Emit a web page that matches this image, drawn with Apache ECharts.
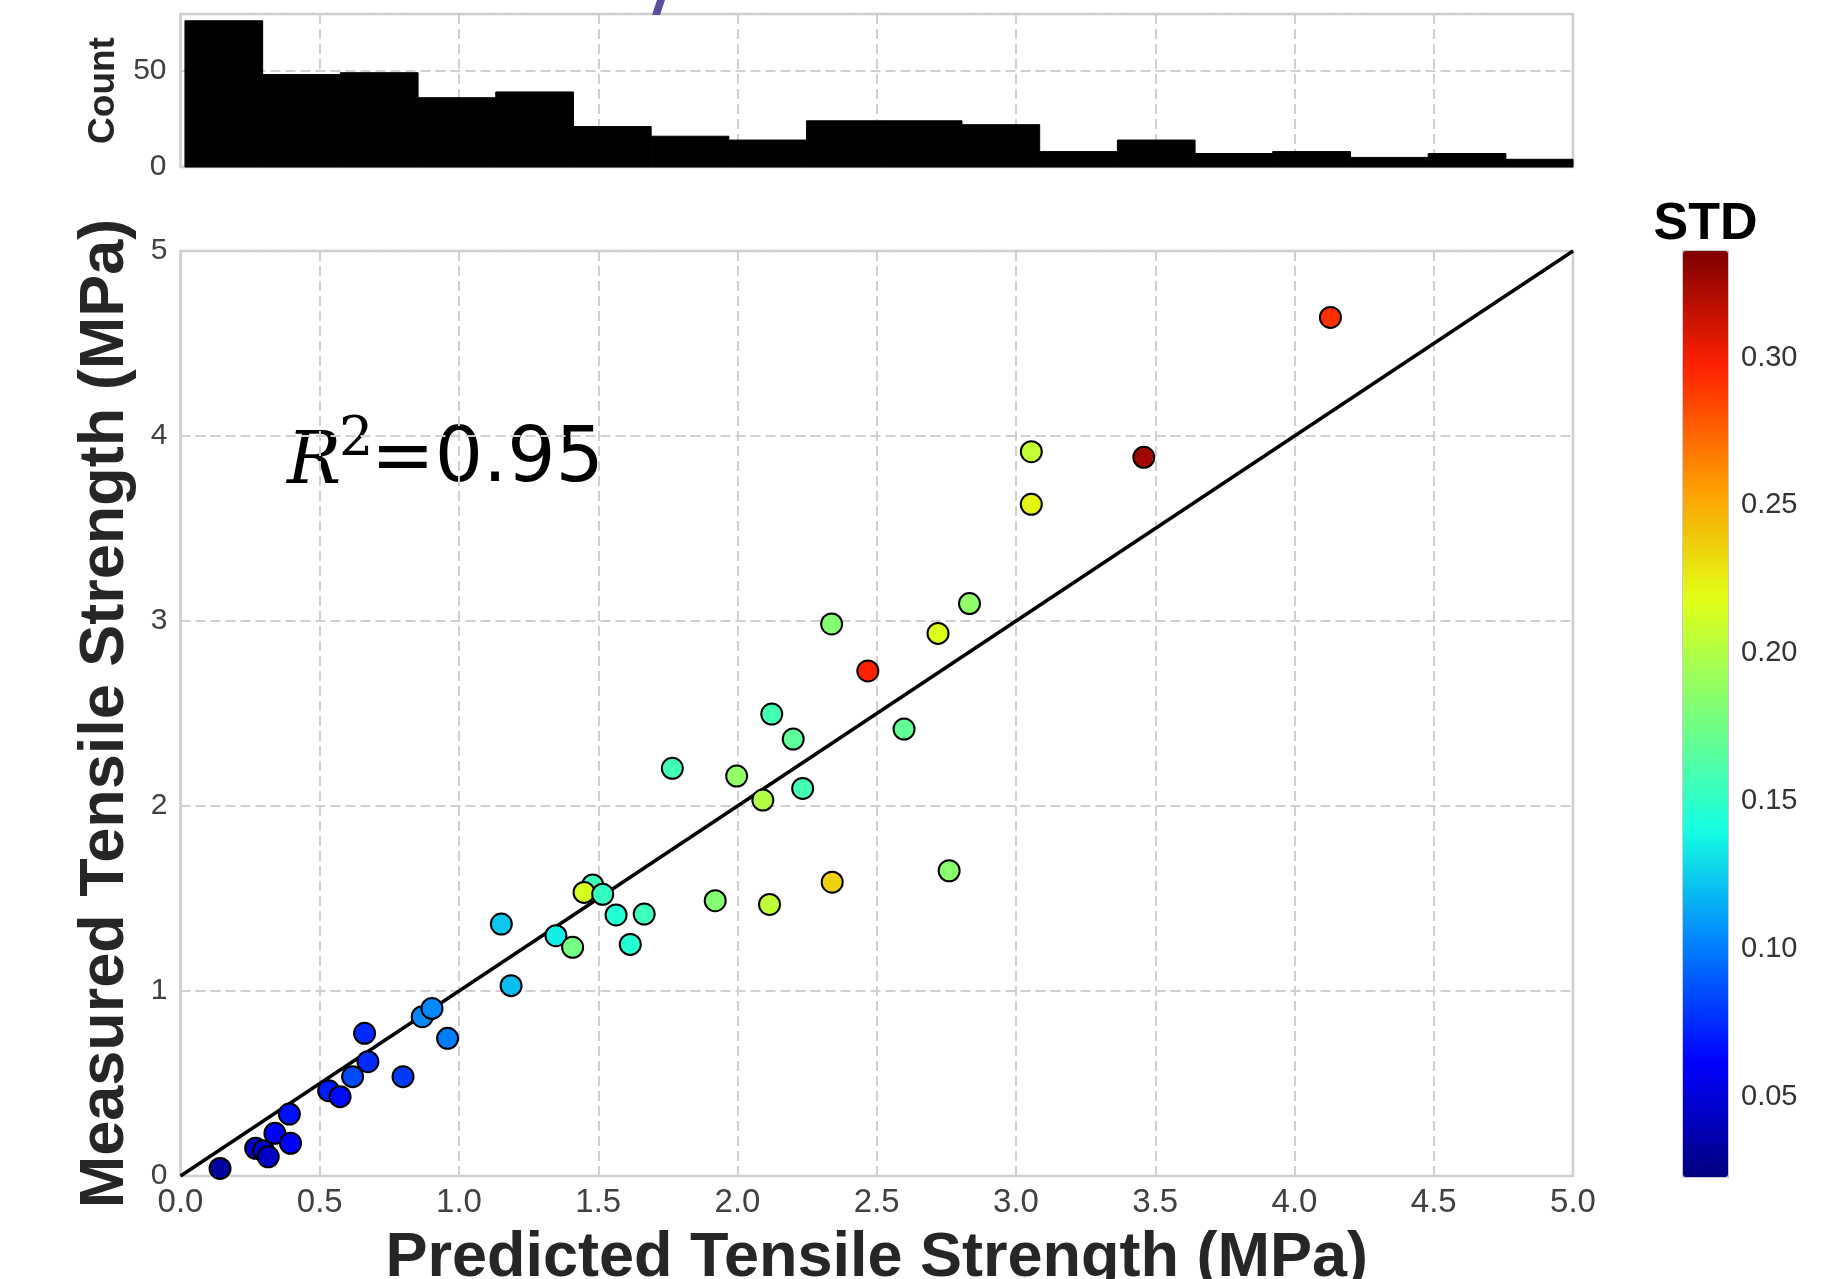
<!DOCTYPE html>
<html>
<head>
<meta charset="utf-8">
<title>Predicted vs Measured Tensile Strength</title>
<script src="https://cdn.jsdelivr.net/npm/echarts@6/dist/echarts.min.js"></script>
<style>
    html, body { margin: 0; padding: 0; background: #fff; }
    #chart { width: 1845px; height: 1279px; }
</style>
</head>
<body>
<div id="chart"></div>
<script>
// histogram of predictions (top panel)
const histCounts = [76, 48, 49, 36, 39, 21, 16, 14, 24, 24, 22, 8, 14, 7, 8, 5, 7, 4];
const histStart = 0.016;
const histBinWidth = 0.279;

// test points: predicted vs measured, coloured by std of the prediction
const predicted = [
    0.142, 0.270, 0.298, 0.315, 0.339, 0.391, 0.395, 0.532, 0.573, 0.618,
    0.661, 0.673, 0.799, 0.868, 0.903, 0.959, 1.152, 1.187, 1.348, 1.408,
    1.480, 1.449, 1.516, 1.564, 1.615, 1.665, 1.766, 1.920, 1.997, 2.091,
    2.115, 2.123, 2.200, 2.234, 2.338, 2.340, 2.468, 2.598, 2.720, 2.760,
    2.833, 3.055, 3.055, 3.459, 4.129
];
const measured = [
    0.041, 0.150, 0.137, 0.104, 0.231, 0.335, 0.177, 0.461, 0.429, 0.537,
    0.771, 0.618, 0.537, 0.861, 0.906, 0.744, 1.362, 1.029, 1.299, 1.236,
    1.573, 1.533, 1.523, 1.411, 1.252, 1.416, 2.204, 1.488, 2.162, 2.032,
    1.468, 2.497, 2.362, 2.095, 2.984, 1.588, 2.730, 2.416, 2.933, 1.650,
    3.094, 3.915, 3.631, 3.885, 4.641
];
const stdValues = [
    0.032, 0.045, 0.046, 0.045, 0.060, 0.067, 0.062, 0.070, 0.065, 0.085,
    0.075, 0.075, 0.080, 0.104, 0.104, 0.100, 0.123, 0.120, 0.135, 0.176,
    0.157, 0.214, 0.152, 0.145, 0.147, 0.155, 0.157, 0.183, 0.188, 0.200,
    0.205, 0.158, 0.168, 0.158, 0.183, 0.236, 0.297, 0.170, 0.217, 0.185,
    0.187, 0.207, 0.223, 0.327, 0.292
];

const stdMin = 0.023;
const stdMax = 0.336;
const stdTicks = [0.05, 0.10, 0.15, 0.20, 0.25, 0.30];
const axisMax = 5;
const identityLine = [0, 5];

// matplotlib 'jet'
const jet = ['#000080', '#0000ff', '#0080ff', '#15ffe2', '#7bff7b', '#e2ff15', '#ff9700', '#ff2100', '#800000'];

const font = 'Liberation Sans, Arial, sans-serif';
const gridLine = { show: true, lineStyle: { type: [10, 5], color: '#d0d0d0', width: 2 } };
const hidden = { show: false };
const frame = { show: true, borderColor: '#cccccc', borderWidth: 2.5, outerBoundsMode: 'none' };

const chart = echarts.init(document.getElementById('chart'));

chart.setOption({
    backgroundColor: '#fff',
    animation: false,
    grid: [
        { ...frame, left: 180.5, top: 14, width: 1392.5, height: 153 },
        { ...frame, left: 180.5, top: 251, width: 1392.5, height: 925 },
        { ...frame, left: 1683, top: 251, width: 45, height: 926, borderWidth: 2 }
    ],
    xAxis: [
        {
            gridIndex: 0, type: 'value', min: 0, max: axisMax, interval: 0.5,
            axisLine: hidden, axisTick: hidden, axisLabel: hidden, splitLine: gridLine
        },
        {
            gridIndex: 1, type: 'value', min: 0, max: axisMax, interval: 0.5,
            axisLine: hidden, axisTick: hidden, splitLine: gridLine,
            axisLabel: {
                fontFamily: font, fontSize: 33, color: '#404040', margin: 10,
                formatter: v => v.toFixed(1)
            },
            name: 'Predicted Tensile Strength (MPa)',
            nameLocation: 'middle',
            nameGap: 51,
            nameMoveOverlap: false,
            nameTextStyle: { fontFamily: font, fontSize: 63, fontWeight: 'bold', color: '#262626' }
        },
        {
            gridIndex: 2, type: 'value', position: 'top',
            axisLine: hidden, axisTick: hidden, axisLabel: hidden, splitLine: hidden,
            name: 'STD',
            nameLocation: 'middle',
            nameGap: 0,
            nameTextStyle: { fontFamily: font, fontSize: 52, fontWeight: 'bold', color: '#000' }
        }
    ],
    yAxis: [
        {
            gridIndex: 0, type: 'value', min: 0, max: 79.5, interval: 50,
            axisLine: hidden, axisTick: hidden, splitLine: gridLine,
            axisLabel: { fontFamily: font, fontSize: 30, color: '#404040', margin: 14, showMaxLabel: false },
            name: 'Count',
            nameLocation: 'middle',
            nameGap: 56,
            nameTextStyle: { fontFamily: font, fontSize: 37, fontWeight: 'bold', color: '#262626' }
        },
        {
            gridIndex: 1, type: 'value', min: 0, max: axisMax, interval: 1,
            axisLine: hidden, axisTick: hidden, splitLine: gridLine,
            axisLabel: { fontFamily: font, fontSize: 30, color: '#404040', margin: 13 },
            name: 'Measured Tensile Strength (MPa)',
            nameLocation: 'middle',
            nameGap: 43,
            nameTextStyle: { fontFamily: font, fontSize: 63, fontWeight: 'bold', color: '#262626' }
        },
        {
            gridIndex: 2, type: 'value', min: stdMin, max: stdMax, position: 'right',
            axisLine: hidden, axisTick: hidden, splitLine: hidden,
            axisLabel: {
                customValues: stdTicks,
                fontFamily: font, fontSize: 29, color: '#333', margin: 13,
                formatter: v => v.toFixed(2)
            }
        }
    ],
    visualMap: {
        type: 'continuous',
        seriesIndex: 2,
        dimension: 2,
        min: stdMin,
        max: stdMax,
        inRange: { color: jet },
        calculable: false,
        hoverLink: false,
        orient: 'vertical',
        left: 1683,
        top: 251,
        padding: 0,
        itemWidth: 45,
        itemHeight: 926
    },
    graphic: [
        // stray stroke of the neighbouring panel, cropped at the top edge
        {
            type: 'polygon',
            shape: { points: [[657, 0], [665, 0], [660, 15], [652, 15]] },
            style: { fill: '#5a4f9e' },
            z: 10
        },
        {
            type: 'text', left: 287, top: 428,
            style: { text: 'R', font: 'italic 72px "DejaVu Serif", serif', fill: '#000' }
        },
        {
            type: 'text', left: 339, top: 414,
            style: { text: '2', font: '54px "DejaVu Serif", serif', fill: '#000' }
        },
        {
            type: 'text', left: 371, top: 423,
            style: { text: '=0.95', font: '76px "DejaVu Sans", sans-serif', fill: '#000' }
        }
    ],
    series: [
        {
            type: 'custom',
            xAxisIndex: 0,
            yAxisIndex: 0,
            silent: true,
            data: histCounts.map((c, i) => [histStart + i * histBinWidth, histStart + (i + 1) * histBinWidth, c]),
            encode: { x: [0, 1], y: 2 },
            renderItem(params, api) {
                const x1 = Math.min(api.value(1), axisMax);
                const p0 = api.coord([api.value(0), api.value(2)]);
                const p1 = api.coord([x1, 0]);
                return {
                    type: 'rect',
                    shape: { x: p0[0], y: p0[1], width: p1[0] - p0[0], height: p1[1] - p0[1] },
                    style: { fill: '#000', stroke: '#000', lineWidth: 1 }
                };
            }
        },
        {
            type: 'line',
            xAxisIndex: 1,
            yAxisIndex: 1,
            silent: true,
            symbol: 'none',
            data: identityLine.map(v => [v, v]),
            lineStyle: { color: '#000', width: 3.5 },
            z: 2
        },
        {
            type: 'scatter',
            xAxisIndex: 1,
            yAxisIndex: 1,
            symbolSize: 21,
            data: predicted.map((x, i) => [x, measured[i], stdValues[i]]),
            itemStyle: { borderColor: '#000', borderWidth: 2, opacity: 1 },
            z: 3
        }
    ]
});
</script>
</body>
</html>
